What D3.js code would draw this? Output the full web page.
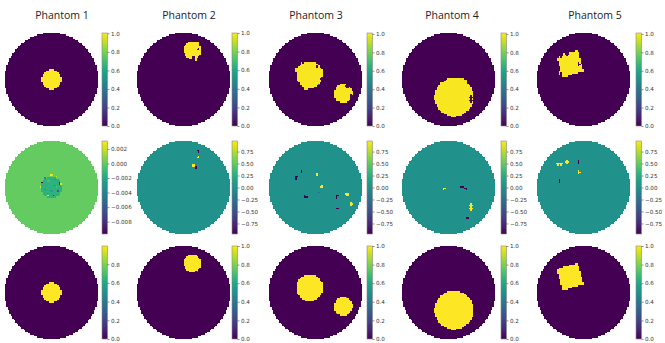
<!DOCTYPE html>
<html>
<head>
<meta charset="utf-8">
<script src="https://cdn.jsdelivr.net/npm/d3@7"></script>
<style>
  body { margin: 0; background: #fff; }
</style>
</head>
<body>
<svg id="chart"></svg>
<script>
const width = 665, height = 343;
const N = 64; // pixel grid of each phantom image

const titles = ['Phantom 1', 'Phantom 2', 'Phantom 3', 'Phantom 4', 'Phantom 5'];
// inclusions, unit-disk coords: [cx, cy, r]
const circles = [
  [[0, 0, 0.21]],
  [[0.19, 0.63, 0.19]],
  [[-0.13, 0.10, 0.29], [0.60, -0.30, 0.20]],
  [[0.12, -0.38, 0.42]],
  [],
];
// [cx, cy, half side, rotation deg]
const squares = [[], [], [], [], [[-0.29, 0.34, 0.235, 15]]];
const truthLevel = [0.995, 1, 1, 1, 1];
// phantom 1 error is small and continuous inside the inclusion
const p1ErrInner = { r: 0.23, v: -0.0015 };
// error pixels [i, j, value]  (error = truth - reconstruction)
const errorPixels = [
  [[31, 23, 0.0031], [32, 23, 0.0022], [25, 28, -0.0097], [24, 31, 0.0025], [37, 28, -0.0085], [37, 29, -0.008],
   [38, 29, 0.0026], [36, 34, -0.006], [29, 37, 0.0025], [33, 37, -0.008], [35, 24, 0.002], [27, 25, -0.004],
   [29, 27, -0.0006], [30, 27, -0.0006], [33, 30, -0.0024], [34, 30, -0.0024], [28, 32, -0.0008], [31, 34, -0.0026],
   [32, 34, -0.0026], [35, 31, -0.0005], [30, 30, -0.0009], [34, 26, -0.0025], [27, 33, -0.0028]],
  [[41, 6, -0.97], [42, 6, -0.97], [42, 7, -0.97], [42, 10, 0.97], [42, 11, 0.97], [41, 11, 0.97],
   [38, 16, 0.97], [39, 16, 0.97], [38, 17, 0.97], [39, 17, 0.97], [40, 17, -0.97], [40, 18, -0.97]],
  [[32, 22, 0.97], [33, 22, 0.97], [32, 23, 0.97], [33, 23, 0.97], [36, 30, 0.97], [36, 31, 0.97], [35, 31, 0.97],
   [52, 36, 0.97], [53, 36, 0.97], [54, 36, 0.97], [53, 37, 0.97], [54, 37, 0.97],
   [56, 42, 0.97], [56, 43, 0.97], [57, 43, 0.97], [56, 44, 0.97],
   [22, 20, -0.97], [22, 21, -0.97], [18, 24, -0.97], [18, 25, -0.97], [18, 26, -0.97], [19, 24, -0.97],
   [24, 38, -0.97], [25, 38, -0.97], [26, 38, -0.97], [24, 37, -0.97],
   [46, 37, -0.97], [47, 37, -0.97], [46, 38, -0.97], [46, 39, -0.97], [46, 46, -0.97], [47, 46, -0.97], [34, 35, -0.3]],
  [[28, 32, 0.97], [29, 32, 0.97], [28, 33, 0.97],
   [40, 31, -0.97], [41, 31, -0.97], [42, 31, -0.97], [43, 32, -0.97], [44, 32, -0.97], [44, 33, -0.97],
   [47, 43, 0.97], [47, 44, 0.97], [47, 45, 0.97], [47, 46, 0.97], [47, 47, 0.97], [46, 44, 0.97], [48, 44, 0.97],
   [46, 46, 0.97], [48, 46, 0.97],
   [44, 52, -0.97], [45, 52, -0.97], [44, 53, -0.97], [45, 53, -0.97]],
  [[13, 15, 0.97], [14, 15, 0.97], [15, 15, 0.97], [16, 15, 0.97], [17, 15, 0.97], [14, 16, 0.97], [16, 16, 0.97],
   [20, 14, 0.97], [19, 14, 0.97], [21, 14, 0.97], [20, 15, 0.97], [20, 13, 0.97],
   [28, 13, -0.97], [28, 14, -0.97], [28, 15, -0.97],
   [28, 20, 0.97], [28, 21, 0.97], [28, 22, 0.97], [29, 21, 0.97],
   [15, 26, -0.97], [15, 27, -0.97], [15, 28, -0.97]],
];
// partial-volume pixels on the ground truth edges
const truthEdgePixels = [[], [[41, 17, 0.45]], [[46, 46, 0.5], [53, 35, 0.55]], [], []];

const ticksUnit = [0, 0.2, 0.4, 0.6, 0.8, 1.0];
const ticksErrSmall = [-0.008, -0.006, -0.004, -0.002, 0, 0.002];
const ticksErr = [-0.75, -0.5, -0.25, 0, 0.25, 0.5, 0.75];

// layout
const colLeft = [5, 137, 269, 402, 537];
const cbLeft = [102, 232, 367, 501, 636];
const rowTop = [33, 141, 246];
const titleX = [62, 189, 316, 452, 595];
const S = 93, CBW = 5.5;

const svg = d3.select('#chart').attr('width', width).attr('height', height).attr('viewBox', [0, 0, width, height]);
const defs = svg.append('defs');

function insideInclusion(p, x, y) {
  const c = circles[p].some(([cx, cy, r]) => (x - cx) ** 2 + (y - cy) ** 2 <= r * r);
  const s = squares[p].some(([cx, cy, h, deg]) => {
    const a = (deg * Math.PI) / 180, dx = x - cx, dy = y - cy;
    const u = dx * Math.cos(a) + dy * Math.sin(a);
    const v = -dx * Math.sin(a) + dy * Math.cos(a);
    return Math.abs(u) <= h && Math.abs(v) <= h;
  });
  return c || s;
}

function buildGrids(p) {
  const truth = [], err = [];
  for (let j = 0; j < N; j++) {
    for (let i = 0; i < N; i++) {
      const x = -1 + ((i + 0.5) * 2) / N, y = 1 - ((j + 0.5) * 2) / N;
      if (x * x + y * y > 1) { truth.push(NaN); err.push(NaN); continue; }
      truth.push(insideInclusion(p, x, y) ? truthLevel[p] : 0);
      let e = 0;
      if (p === 0) {
        const [cx, cy] = circles[0][0];
        if ((x - cx) ** 2 + (y - cy) ** 2 <= p1ErrInner.r ** 2) e = p1ErrInner.v;
      }
      err.push(e);
    }
  }
  errorPixels[p].forEach(([i, j, v]) => { if (!isNaN(err[j * N + i])) err[j * N + i] = v; });
  const recon = truth.map((t, k) => (isNaN(t) ? NaN : Math.max(0, Math.min(1.01, t - err[k]))));
  const shown = truth.slice();
  truthEdgePixels[p].forEach(([i, j, v]) => { if (!isNaN(shown[j * N + i])) shown[j * N + i] = v; });
  return [recon, err, shown];
}

function drawPanel(grid, L, T, cbx, ticks, fmt, id) {
  const g = svg.append('g');
  const x = d3.scaleLinear([0, N], [L, L + S]);
  const y = d3.scaleLinear([0, N], [T, T + S]);
  const ext = d3.extent(grid.filter((v) => !isNaN(v)));
  const color = d3.scaleSequential(d3.interpolateViridis).domain(ext);

  // merge equal neighbours of a row into one rect
  const runs = [];
  for (let j = 0; j < N; j++) {
    let i = 0;
    while (i < N) {
      const v = grid[j * N + i];
      if (isNaN(v)) { i++; continue; }
      let k = i;
      while (k + 1 < N && grid[j * N + k + 1] === v) k++;
      runs.push({ i0: i, i1: k + 1, j, v });
      i = k + 1;
    }
  }
  g.append('g')
    .attr('shape-rendering', 'crispEdges')
    .selectAll('rect')
    .data(runs)
    .join('rect')
    .attr('x', (d) => x(d.i0))
    .attr('y', (d) => y(d.j))
    .attr('width', (d) => x(d.i1) - x(d.i0))
    .attr('height', y(1) - y(0))
    .attr('fill', (d) => color(d.v));

  // colorbar
  const grad = defs.append('linearGradient').attr('id', id).attr('x1', 0).attr('y1', 1).attr('x2', 0).attr('y2', 0);
  grad.selectAll('stop')
    .data(d3.range(0, 1.0001, 0.05))
    .join('stop')
    .attr('offset', (t) => t)
    .attr('stop-color', (t) => d3.interpolateViridis(t));
  const cy = d3.scaleLinear(ext, [T + S, T]);
  g.append('rect')
    .attr('x', cbx).attr('y', T).attr('width', CBW).attr('height', S)
    .attr('fill', `url(#${id})`)
    .attr('stroke', '#888').attr('stroke-width', 0.6);
  const axis = d3.axisRight(cy)
    .tickValues(ticks.filter((t) => t >= ext[0] - 1e-9 && t <= ext[1] + 1e-9))
    .tickSize(2)
    .tickPadding(1.5)
    .tickFormat(d3.format(fmt));
  g.append('g')
    .attr('transform', `translate(${cbx + CBW},0)`)
    .call(axis)
    .call((a) => a.select('.domain').remove())
    .call((a) => a.selectAll('.tick line').attr('stroke', '#444').attr('stroke-width', 0.6))
    .call((a) => a.selectAll('.tick text').attr('fill', '#333').style('font', '5.6px "DejaVu Sans"'));
}

titles.forEach((title, p) => {
  svg.append('text')
    .attr('x', titleX[p]).attr('y', 18.5)
    .attr('text-anchor', 'middle')
    .style('font', '10.5px "Open Sans"')
    .attr('fill', '#222')
    .text(title);

  const grids = buildGrids(p);
  const tickSets = [ticksUnit, p === 0 ? ticksErrSmall : ticksErr, ticksUnit];
  const fmts = ['.1f', p === 0 ? '.3f' : '.2f', '.1f'];
  grids.forEach((grid, r) => {
    drawPanel(grid, colLeft[p], rowTop[r], cbLeft[p], tickSets[r], fmts[r], `cb${p}_${r}`);
  });
});
</script>
</body>
</html>
